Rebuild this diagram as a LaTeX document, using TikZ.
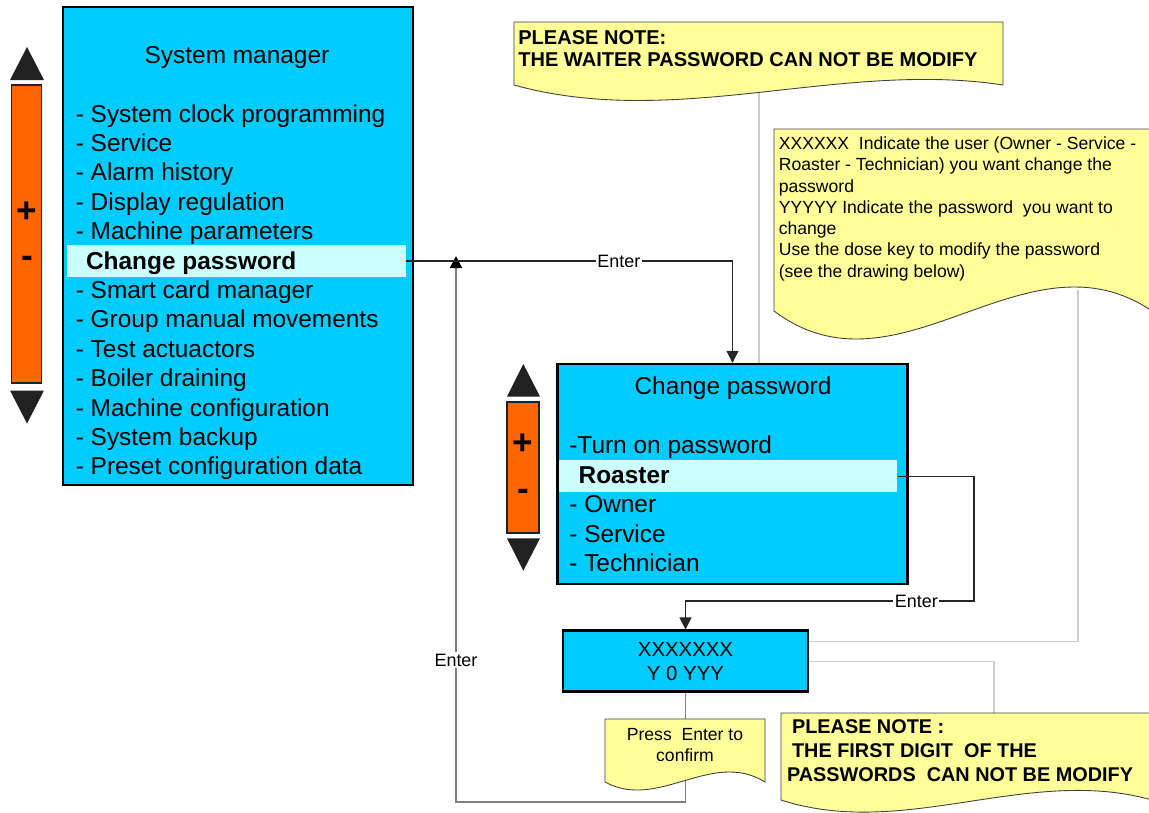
\documentclass[tikz,border=0pt]{standalone}
\usepackage{fontspec}
\setmainfont{Liberation Sans}
\usetikzlibrary{arrows.meta,positioning,calc}
\definecolor{lcdblue}{RGB}{0,204,255}
\definecolor{selrow}{RGB}{204,255,255}
\definecolor{keyorange}{RGB}{255,102,0}
\definecolor{notebg}{RGB}{255,255,153}
\definecolor{keydark}{RGB}{33,33,33}
\definecolor{guidegray}{RGB}{205,205,205}
\definecolor{backgray}{RGB}{128,128,128}
\tikzset{
  lcd/.style={draw=black,line width=1.4pt,fill=lcdblue,inner sep=0pt},
  selbar/.style={fill=selrow,inner sep=0pt,minimum width=6.78cm,minimum height=0.64cm},
  keybar/.style={draw=keydark,line width=1.1pt,fill=keyorange,inner sep=0pt},
  keysign/.style={anchor=base,inner sep=0pt,font=\fontsize{20}{24}\selectfont\bfseries},
  keytip/.style={fill=keydark},
  title/.style={anchor=base,inner sep=0pt,font=\fontsize{13.9}{16.7}\selectfont},
  item/.style={anchor=base west,inner sep=0pt,font=\fontsize{13.9}{16.7}\selectfont},
  pick/.style={item,font=\fontsize{13.9}{16.7}\selectfont\bfseries},
  note/.style={draw=black!75,line width=0.5pt,fill=notebg},
  notetext/.style={anchor=north west,inner sep=0pt,align=left,font=\fontsize{10}{12.1}\selectfont},
  warn/.style={notetext,font=\fontsize{11.4}{12.8}\selectfont\bfseries},
  enter/.style={-{Triangle[length=2.4mm,width=2.4mm]},draw=black!85,line width=0.6pt},
  back/.style={-{Triangle[length=2.4mm,width=2.4mm,color=black]},draw=backgray,line width=1.1pt},
  guide/.style={draw=guidegray,line width=0.6pt},
  keylbl/.style={fill=white,inner sep=1pt,font=\fontsize{10.2}{12}\selectfont}
}

\begin{document}
\begin{tikzpicture}[x=0.02cm,y=-0.02cm]
  \path[use as bounding box,fill=white] (0,0) rectangle (1149,812);
  \clip (0,0) rectangle (1149,812);

  % keys of the first screen
  \fill[keytip] (10,80) -- (44,80) -- (27,47) -- cycle;
  \node[keybar,minimum width=0.6cm,minimum height=5.96cm] (keys1) at (26.5,234) {};
  \fill[keytip] (10,390.5) -- (44,390.5) -- (27,423.5) -- cycle;
  \node[keysign] (plus1) at (27,222) {+};
  \node[keysign] (minus1) at (27,267) {-};

  % system manager screen
  \node[lcd,minimum width=7cm,minimum height=9.56cm] (sm) at (238,246) {};
  \node[title] (smtitle) at (237,63) {System manager};
  \node[selbar] (sel1) at (236.2,261) {};
  \foreach \n/\txt in {1/System clock programming,2/Service,3/Alarm history,4/Display regulation,
      5/Machine parameters,7/Smart card manager,8/Group manual movements,9/Test actuactors,
      10/Boiler draining,11/Machine configuration,12/System backup,13/Preset configuration data}
    \node[item] (sm\n) at (75.5,{122+29.4*(\n-1)}) {- \txt};
  \node[pick] (sm6) at (85.7,269) {Change password};

  % keys of the second screen
  \fill[keytip] (507,396.5) -- (540,396.5) -- (523.3,364) -- cycle;
  \node[keybar,minimum width=0.63cm,minimum height=2.62cm] (keys2) at (523,467.2) {};
  \fill[keytip] (507,538.3) -- (540,538.3) -- (523.3,570.7) -- cycle;
  \node[keysign] (plus2) at (523,454) {+};
  \node[keysign] (minus2) at (523,500) {-};

  % change password screen
  \node[lcd,minimum width=7cm,minimum height=4.4cm] (cpw) at (732.5,474) {};
  \node[title] (cpwtitle) at (733,394.5) {Change password};
  \node[selbar,minimum width=6.76cm] (sel2) at (728.2,476.3) {};
  \node[item] (cp1) at (569,453.5) {-Turn on password};
  \node[pick] (cp2) at (578.3,483.3) {Roaster};
  \foreach \n/\txt in {3/Owner,4/Service,5/Technician}
    \node[item] (cp\n) at (569,{512.7+29.4*(\n-3)}) {- \txt};

  % password field
  \node[lcd,minimum width=4.91cm,minimum height=1.22cm,align=center,
        font=\fontsize{11.6}{13.8}\selectfont] (pw) at (685.5,661.2) {XXXXXXX\\Y 0 YYY};

  % guide lines to the notes
  \coordinate (tail1) at (759,92);
  \coordinate (tail2) at (1078,290);
  \coordinate (tail3) at (994,713);
  \draw[guide] (tail1) -- (tail1 |- cpw.north);
  \draw[guide] ([yshift=0.4cm]pw.east) -| (tail2);
  \draw[guide] (pw.east) -| (tail3);

  % enter paths
  \coordinate (pwturn) at (974,601);
  \coordinate (backfoot) at (456,802);
  \coordinate (backtip) at (456,256);
  \draw[back] (pw.south) |- (backfoot) -- node[keylbl,pos=0.26]{Enter} (backtip);
  \draw[enter] (sel1.east) -| node[keylbl,pos=0.326]{Enter} (cpw.north);
  \draw[enter] (sel2.east) -| (pwturn) -| node[keylbl,pos=0.1]{Enter} (pw.north);

  % notes
  \filldraw[note] (514,22) -- (1003,22) -- (1003,85) .. controls (839.7,60) and (676.3,130) .. (514,85) -- cycle;
  \node[warn] (note1) at (518,30) {PLEASE NOTE:\\THE WAITER PASSWORD CAN NOT BE MODIFY};

  \filldraw[note] (774,129) -- (1152,129) -- (1152,311) .. controls (1024.7,225) and (899.3,405) .. (774,311) -- cycle;
  \node[notetext] (note2) at (778.5,136.5) {XXXXXX\ \ Indicate the user (Owner - Service -\\
    Roaster - Technician) you want change the\\password\\
    YYYYY Indicate the password\ \ you want to\\change\\
    Use the dose key to modify the password\\(see the drawing below)};

  \filldraw[note] (605,719) -- (765,719) -- (765,782) .. controls (711.7,748.8) and (658.3,811.2) .. (605,782) -- cycle;
  \node[notetext,anchor=north,align=center,font=\fontsize{10}{11.9}\selectfont] (press) at (685,728) {Press\ \ Enter to\\confirm};

  \filldraw[note] (781,713) -- (1152,713) -- (1152,800) .. controls (1028.3,765) and (904.7,840) .. (781,800) -- cycle;
  \node[warn,font=\fontsize{11.3}{13.6}\selectfont\bfseries] (note3) at (786.7,719.4)
    {\hspace*{0.1cm}PLEASE NOTE :\\\hspace*{0.1cm}THE FIRST DIGIT\ \ OF THE\\PASSWORDS\ \ CAN NOT BE MODIFY};
\end{tikzpicture}
\end{document}
